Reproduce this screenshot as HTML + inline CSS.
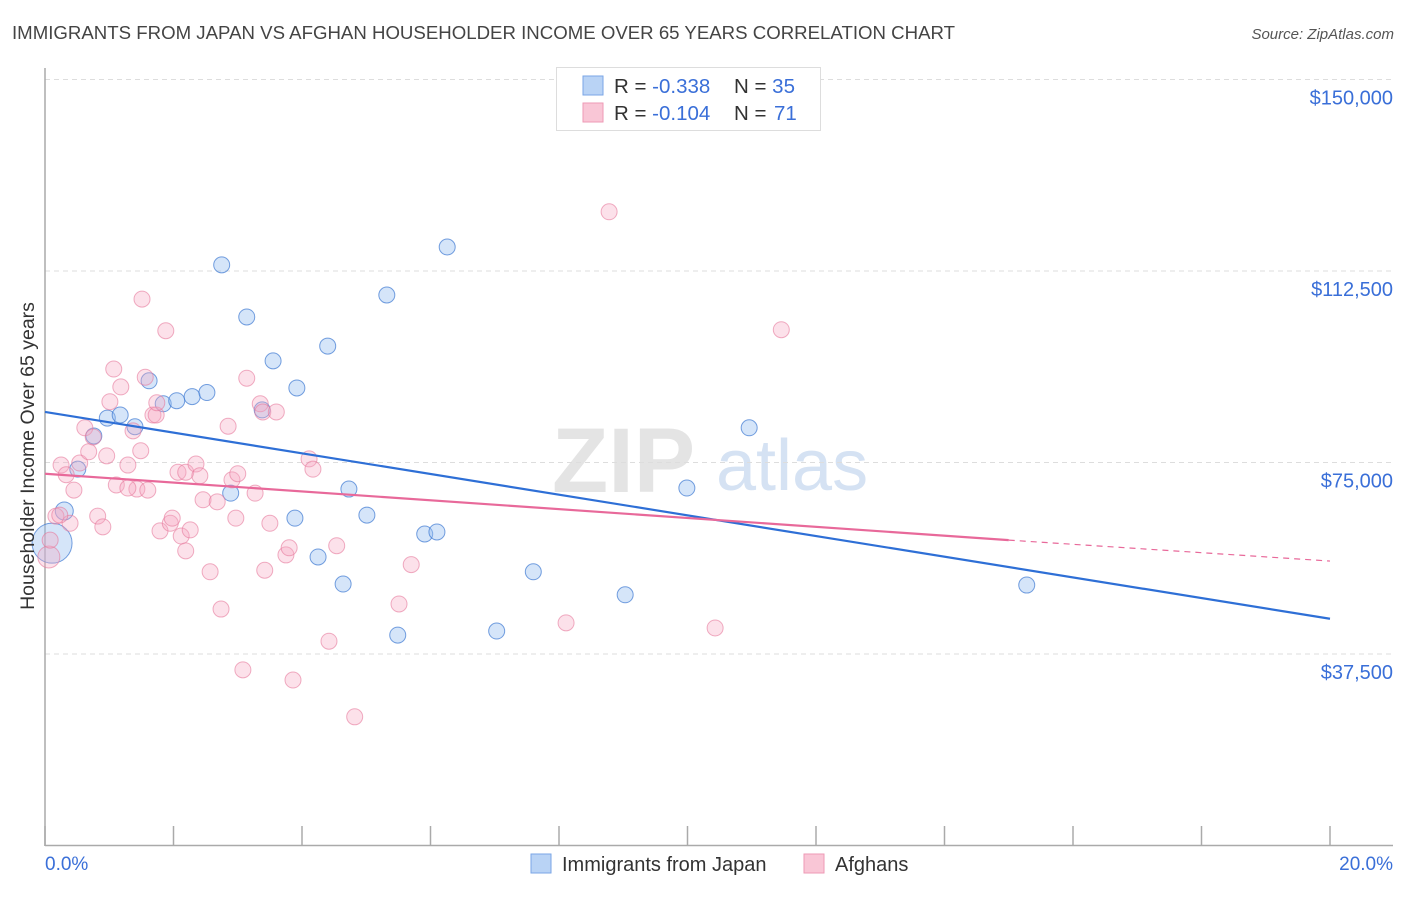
<!DOCTYPE html>
<html><head><meta charset="utf-8"><style>
body{margin:0;background:#fff;font-family:"Liberation Sans",sans-serif;}
svg text{font-family:"Liberation Sans",sans-serif;}
</style></head><body>
<svg id="chart" width="1406" height="892" viewBox="0 0 1406 892" xmlns="http://www.w3.org/2000/svg">
<text x="12" y="39" font-size="18" fill="#444" textLength="943" lengthAdjust="spacingAndGlyphs">IMMIGRANTS FROM JAPAN VS AFGHAN HOUSEHOLDER INCOME OVER 65 YEARS CORRELATION CHART</text>
<text x="1394" y="39" font-size="15" fill="#555" text-anchor="end" font-style="italic">Source: ZipAtlas.com</text>
<text x="552" y="492" font-size="92" fill="#e4e4e4" font-family="Liberation Serif" font-weight="bold">ZIP</text>
<text x="716" y="490" font-size="72" fill="#d5e2f3">atlas</text>
<g id="grid"></g>
<g id="axes"></g>
<g id="pts"></g>
<g id="trends"></g>
<text transform="translate(34,456) rotate(-90)" font-size="19.5" fill="#333" text-anchor="middle">Householder Income Over 65 years</text>
<text x="45" y="870" font-size="19" fill="#3a6fd8">0.0%</text>
<text x="1393" y="870" font-size="19" fill="#3a6fd8" text-anchor="end">20.0%</text>
<g>
<rect x="556.5" y="67.5" width="264" height="63" fill="#fff" stroke="#ddd"/>
<rect x="583" y="76" width="20" height="19" fill="#b9d3f5" stroke="#7aa6e6"/>
<rect x="583" y="103" width="20" height="19" fill="#f9c6d6" stroke="#ee9ab5"/>
<text x="614" y="93" font-size="20.5" fill="#333">R = <tspan fill="#3a6fd8">-0.338</tspan><tspan x="734">N = </tspan><tspan fill="#3a6fd8">35</tspan></text>
<text x="614" y="120" font-size="20.5" fill="#333">R = <tspan fill="#3a6fd8">-0.104</tspan><tspan x="734">N = </tspan><tspan fill="#3a6fd8" x="774">71</tspan></text>
</g>
<g>
<rect x="531" y="854" width="20" height="19" fill="#b9d3f5" stroke="#7aa6e6"/>
<text x="562" y="871" font-size="20" fill="#333">Immigrants from Japan</text>
<rect x="804" y="854" width="20" height="19" fill="#f9c6d6" stroke="#ee9ab5"/>
<text x="835" y="871" font-size="20" fill="#333">Afghans</text>
</g>
</svg>
<script>
const yTicks=[37500,75000,112500,150000];
const yTickLabels=["$37,500","$75,000","$112,500","$150,000"];
const xTicks=[0,2,4,6,8,10,12,14,16,18,20];
const japanX=[0.11,0.30,0.51,0.76,0.97,1.17,1.40,1.62,1.84,2.05,2.29,2.52,2.75,2.89,3.14,3.38,3.55,3.92,3.89,4.25,4.40,4.64,4.73,5.01,5.32,5.49,5.91,6.10,6.26,7.03,7.60,9.03,9.99,10.96,15.28];
const japanY=[59.2,65.5,73.7,80.2,83.7,84.3,82.0,91.0,86.5,87.1,87.9,88.7,113.7,69.0,103.5,85.3,94.9,89.6,64.1,56.5,97.8,51.2,69.8,64.7,107.8,41.2,61.0,61.4,117.2,42.0,53.6,49.1,70.0,81.8,51.0];
const japanSize=[20,9,8,8,8,8,8,8,8,8,8,8,8,8,8,8,8,8,8,8,8,8,8,8,8,8,8,8,8,8,8,8,8,8,8];
const afgX=[0.06,0.08,0.17,0.25,0.33,0.39,0.45,0.54,0.62,0.68,0.75,0.82,0.90,0.96,1.01,1.07,1.18,1.29,1.37,1.43,1.49,1.51,1.56,1.60,1.68,1.73,1.74,1.79,1.88,1.95,1.98,2.07,2.12,2.19,2.19,2.26,2.35,2.41,2.46,2.57,2.68,2.74,2.85,2.91,2.97,3.00,3.08,3.14,3.27,3.35,3.39,3.42,3.50,3.60,3.75,3.80,3.86,4.11,4.17,4.42,4.54,4.82,5.51,5.70,8.11,8.78,10.43,11.46,1.11,1.29,0.23];
const afgY=[56.5,59.8,64.5,74.5,72.6,63.1,69.6,74.9,81.8,77.1,80.0,64.5,62.4,76.3,86.9,93.3,89.8,74.5,81.2,69.8,77.3,107.0,91.7,69.6,84.3,84.3,86.7,61.6,100.8,63.1,64.1,73.1,60.6,57.7,73.1,61.8,74.7,72.4,67.7,53.6,67.3,46.3,82.1,71.6,64.1,72.8,34.4,91.5,69.0,86.5,84.9,53.9,63.1,84.9,56.9,58.3,32.4,75.7,73.7,40.0,58.7,25.2,47.3,55.0,43.6,124.1,42.6,101.0,70.6,70.0,64.7];
const japanTrend=[84.9,44.4];
const afgTrend=[72.8,59.8,55.7];
const afgTrendX=[0,15.0,20];

const NS="http://www.w3.org/2000/svg";
const xs=p=>45+p*(1285/20);
const ys=v=>845.5-v*(191.5/37.5);
function mk(tag,attrs,parent){const e=document.createElementNS(NS,tag);for(const k in attrs)e.setAttribute(k,attrs[k]);parent.appendChild(e);return e;}
const grid=document.getElementById('grid'),axes=document.getElementById('axes'),pts=document.getElementById('pts'),tr=document.getElementById('trends');
yTicks.forEach((t,i)=>{
 const y=ys(t/1000);
 const l=mk('line',{x1:45,x2:1393,y1:y,y2:y,stroke:'#ddd','stroke-dasharray':'5,4'},grid);
 
 
 const tx=mk('text',{x:1393,y:y+25,'font-size':20,fill:'#3a6fd8','text-anchor':'end'},axes);
 tx.textContent=yTickLabels[i];
 
 
});
const al=mk('line',{x1:45,x2:45,y1:68,y2:846,stroke:'#aaa','stroke-width':1.5},axes);


const bl=mk('line',{x1:45,x2:1393,y1:845.5,y2:845.5,stroke:'#aaa','stroke-width':1.5},axes);


xTicks.forEach(t=>{
 const x=xs(t);
 const l=mk('line',{x1:x,x2:x,y1:826,y2:846,stroke:'#aaa','stroke-width':1.5},axes);
 
 
});
japanX.forEach((v,i)=>{
 const c=mk('circle',{cx:xs(v),cy:ys(japanY[i]),r:japanSize[i],fill:'rgba(150,190,240,0.4)',stroke:'rgba(60,120,210,0.7)','stroke-width':1},pts);
 
 
});
afgX.forEach((v,i)=>{
 const c=mk('circle',{cx:xs(v),cy:ys(afgY[i]),r:(i===0?11:8),fill:'rgba(245,170,195,0.35)',stroke:'rgba(230,120,155,0.6)','stroke-width':1},pts);
 
 
});
const jl=mk('line',{x1:xs(0),y1:ys(japanTrend[0]),x2:xs(20),y2:ys(japanTrend[1]),stroke:'#2e6fd6','stroke-width':2.2},tr);


const pl=mk('line',{x1:xs(afgTrendX[0]),y1:ys(afgTrend[0]),x2:xs(afgTrendX[1]),y2:ys(afgTrend[1]),stroke:'#e8699a','stroke-width':2.2},tr);


const pd=mk('line',{x1:xs(afgTrendX[1]),y1:ys(afgTrend[1]),x2:xs(afgTrendX[2]),y2:ys(afgTrend[2]),stroke:'#e8699a','stroke-width':1.2,'stroke-dasharray':'6,5'},tr);


</script>
</body></html>
